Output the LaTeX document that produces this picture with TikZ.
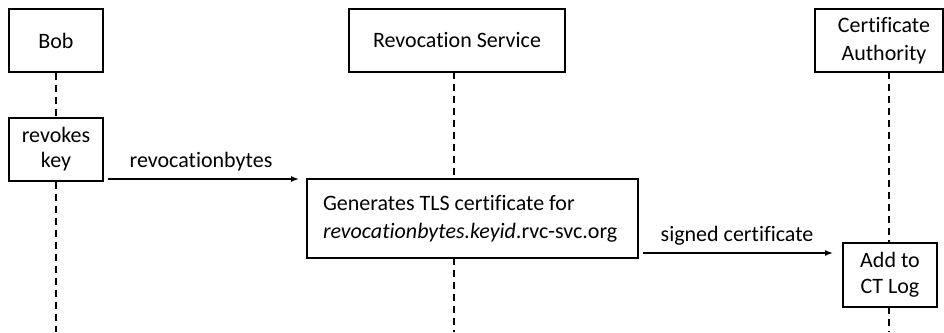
\documentclass[tikz,border=0pt]{standalone}
\usepackage{fontspec}
\setmainfont[Ligatures={NoCommon}]{Carlito}
\usetikzlibrary{arrows.meta}
\begin{document}
\begin{tikzpicture}[x=1pt,y=-1pt,
  actor/.style={draw=black,line width=1.2pt,fill=white,inner sep=0pt,align=center,font=\fontsize{22}{25}\selectfont},
  life/.style={line width=1.6pt,dash pattern=on 7pt off 5pt},
  msg/.style={line width=1.4pt,-{Latex[length=8pt,width=6pt]}},
  lbl/.style={font=\fontsize{22}{25}\selectfont,inner sep=0pt}]
\useasboundingbox (0,0) rectangle (944,332);
% header boxes
\node[actor,minimum width=94pt,minimum height=63pt] (bob) at (56,40.5) {Bob};
\node[actor,minimum width=216pt,minimum height=63pt] (rev) at (457,40.5) {Revocation Service};
\node[actor,minimum width=128pt,minimum height=63pt,font=\fontsize{22}{28}\selectfont] (ca) at (879,40.5) {\hspace*{10pt}Certificate\\\hspace*{10pt}Authority};
% activation boxes
\node[actor,minimum width=94pt,minimum height=63pt] (revokes) at (56,149.5) {revokes\\key};
\node[actor,minimum width=331pt,minimum height=79pt,align=flush left,text width=299pt,font=\fontsize{22}{28}\selectfont] (gen) at (472.5,218.5) {Generates TLS certificate for\\\textit{revocationbytes.keyid}.rvc-svc.org};
\node[actor,minimum width=94pt,minimum height=64pt,font=\fontsize{22}{26}\selectfont] (add) at (890,275) {Add to\\CT Log};
% lifeline coordinates
\coordinate (bobend) at (56,332);
\coordinate (revtop) at (454,72);
\coordinate (revmid1) at (454,179);
\coordinate (revmid2) at (454,258);
\coordinate (revend) at (454,332);
\coordinate (catop) at (889,72);
\coordinate (camid1) at (889,243);
\coordinate (camid2) at (889,307);
\coordinate (caend) at (889,332);
\draw[life] (bob.south) -- (revokes.north);
\draw[life] (revokes.south) -- (bobend);
\draw[life] (revtop) -- (revmid1);
\draw[life] (revmid2) -- (revend);
\draw[life] (catop) -- (camid1);
\draw[life] (camid2) -- (caend);
% messages
\coordinate (m1s) at (108,179);
\coordinate (m1e) at (299,179);
\coordinate (m2s) at (643,253);
\coordinate (m2e) at (833,253);
\draw[msg] (m1s) -- (m1e);
\draw[msg] (m2s) -- (m2e);
\node[lbl] (l1) at (201,162) {revocationbytes};
\node[lbl] (l2) at (737,236) {signed certificate};
\end{tikzpicture}
\end{document}
